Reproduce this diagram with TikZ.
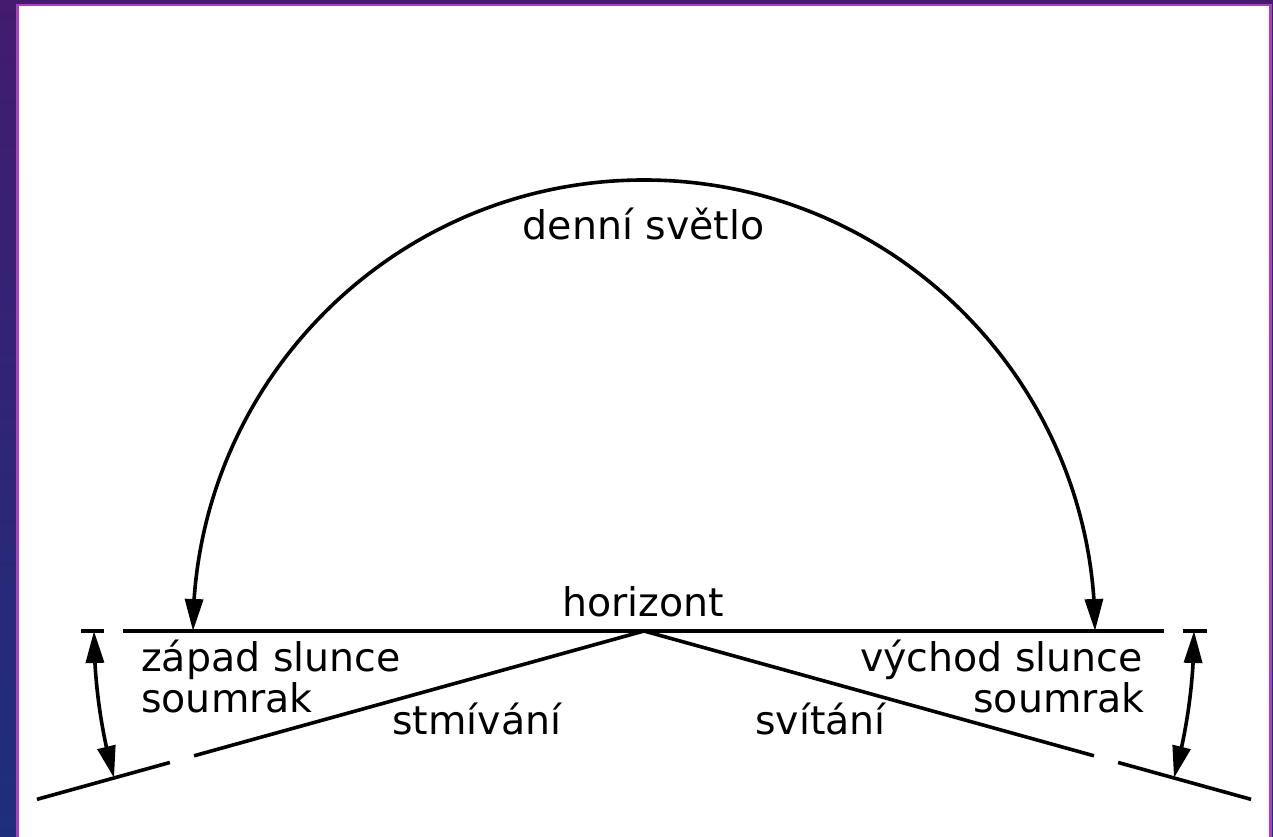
\documentclass[tikz,border=0pt]{standalone}
\usepackage{fontspec}
\setmainfont{DejaVu Sans}
\usetikzlibrary{arrows.meta,bending}
\definecolor{bgtop}{RGB}{67,27,111}
\definecolor{bgbot}{RGB}{29,47,124}
\definecolor{framemag}{RGB}{172,62,192}
\begin{document}
\begin{tikzpicture}[x=0.75pt,y=0.75pt,
  ln/.style={line width=2.7pt, line cap=butt},
  twotips/.style={{Triangle[length=24pt,width=13.5pt]}-{Triangle[length=24pt,width=13.5pt]}},
  lbl/.style={inner sep=0pt, font=\fontsize{29.6}{35}\selectfont}]
\useasboundingbox (0,0) rectangle (1273,837);
\shade[top color=bgtop,bottom color=bgbot] (0,0) rectangle (1273,837);
\fill[framemag] (16,0) rectangle (1272,833);
\fill[white] (18.5,0) rectangle (1269,830.5);

% apex and horizon
\coordinate (O) at (644,206);
\coordinate (HL) at (123,206);
\coordinate (HR) at (1164,206);
\coordinate (TL1) at (81,206);
\coordinate (TL2) at (104,206);
\coordinate (TR1) at (1183,206);
\coordinate (TR2) at (1207,206);
\draw[ln] (HL) -- (HR);
\draw[ln] (TL1) -- (TL2);
\draw[ln] (TR1) -- (TR2);

% sloped lines
\coordinate (LA) at ([shift={(195.5:467)}]O);
\coordinate (LB) at ([shift={(195.5:492)}]O);
\coordinate (LC) at ([shift={(195.5:630)}]O);
\coordinate (RA) at ([shift={(-15.5:467)}]O);
\coordinate (RB) at ([shift={(-15.5:492)}]O);
\coordinate (RC) at ([shift={(-15.5:630)}]O);
\draw[ln] (O) -- (LA);
\draw[ln] (LB) -- (LC);
\draw[ln] (O) -- (RA);
\draw[ln] (RB) -- (RC);

% big arc (daylight)
\coordinate (SW) at ([shift={(180:451)}]O);
\draw[ln,twotips] (SW) arc[start angle=180,end angle=0,radius=451];

% twilight angle arcs
\coordinate (AL) at ([shift={(180:550)}]O);
\coordinate (AR) at ([shift={(0:550)}]O);
\draw[ln,twotips] (AL) arc[start angle=180,end angle=195.5,radius=550];
\draw[ln,twotips] (AR) arc[start angle=0,end angle=-15.5,radius=550];

% labels
\node[lbl,anchor=base] (day) at (643.5,597) {denní světlo};
\node[lbl,anchor=base] (hor) at (643,220) {horizont};
\node[lbl,anchor=base west] (zap) at (141,165) {západ slunce};
\node[lbl,anchor=base west] (soml) at (141,124) {soumrak};
\node[lbl,anchor=base east] (vych) at (1143,165) {východ slunce};
\node[lbl,anchor=base east] (somr) at (1145,124) {soumrak};
\node[lbl,anchor=base west] (stm) at (392,102) {stmívání};
\node[lbl,anchor=base west] (svit) at (755,102) {svítání};
\end{tikzpicture}
\end{document}
